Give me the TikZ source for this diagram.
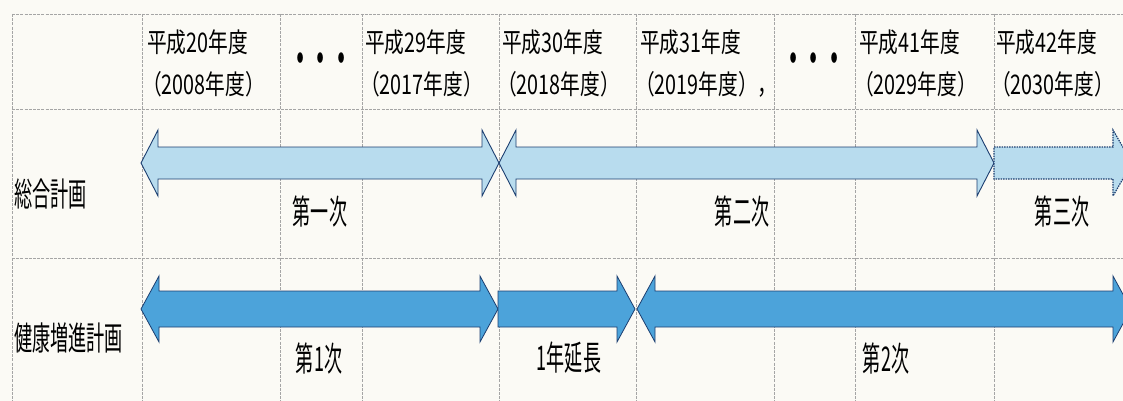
\documentclass[tikz,border=0pt]{standalone}
\usepackage{fontspec}
\newfontfamily\hdfont[FakeStretch=0.73]{Noto Sans CJK JP}
\newfontfamily\rwfont[FakeStretch=0.55]{Noto Sans CJK JP}
\newfontfamily\txfont[FakeStretch=0.53]{Noto Sans CJK JP}
\definecolor{bgcol}{RGB}{251,250,245}
\definecolor{gridcol}{RGB}{165,165,165}
\definecolor{lightfill}{RGB}{184,220,238}
\definecolor{darkfill}{RGB}{76,163,218}
\definecolor{edgecol}{RGB}{28,62,112}
\tikzset{
  gridline/.style={draw=gridcol, line width=0.5pt, dash pattern=on 3pt off 1.2pt},
  hdtext/.style={anchor=west, inner sep=0pt, font=\hdfont\fontsize{27}{27}\selectfont, text=black},
  dotstext/.style={inner sep=0pt, font=\txfont\bfseries\fontsize{38}{38}\selectfont, text=black},
  rowtext/.style={anchor=west, inner sep=0pt, font=\rwfont\fontsize{33}{33}\selectfont, text=black},
  lbltext/.style={inner sep=0pt, font=\txfont\fontsize{34}{34}\selectfont, text=black},
  lightarrow/.style={fill=lightfill, draw=edgecol, line width=0.9pt, line join=miter},
  dasharrow/.style={fill=lightfill, draw=edgecol, line width=1.2pt, dash pattern=on 1.5pt off 1pt},
  darkarrow/.style={fill=darkfill, draw=edgecol, line width=0.8pt, line join=miter},
}
\begin{document}
\begin{tikzpicture}[x=1pt,y=-1pt]
\useasboundingbox (0,0) rectangle (1123,401);
\fill[bgcol] (0,0) rectangle (1123,401);
\clip (0,0) rectangle (1123,401);
% grid
\foreach \yy in {14,109,258} \draw[gridline] (12,\yy) -- (1123,\yy);
\foreach \xx in {12,142,280,362,499,636,774,855,994} \draw[gridline] (\xx,14) -- (\xx,401);
% header
\node[hdtext] (h1a) at (147,42) {平成20年度};
\node[hdtext] (h1b) at (142,84) {（2008年度）};
\node[dotstext] (d1) at (321,63) {・・・};
\node[hdtext] (h2a) at (365,42) {平成29年度};
\node[hdtext] (h2b) at (360,84) {（2017年度）};
\node[hdtext] (h3a) at (502,42) {平成30年度};
\node[hdtext] (h3b) at (497,84) {（2018年度）};
\node[hdtext] (h4a) at (640,42) {平成31年度};
\node[hdtext] (h4b) at (635,84) {（2019年度），};
\node[dotstext] (d2) at (814,63) {・・・};
\node[hdtext] (h5a) at (859,42) {平成41年度};
\node[hdtext] (h5b) at (854,84) {（2029年度）};
\node[hdtext] (h6a) at (996,42) {平成42年度};
\node[hdtext] (h6b) at (991,84) {（2030年度）};
% row labels
\node[rowtext] (r1) at (14,194) {総合計画};
\node[rowtext] (r2) at (14,338) {健康増進計画};
% row 2 arrows (center 163)
\draw[lightarrow] (141,163) -- (158,130) -- (158,147) -- (482,147) -- (482,130) -- (499,163)
  -- (482,196) -- (482,179) -- (158,179) -- (158,196) -- cycle;
\draw[lightarrow] (499,163) -- (516,130) -- (516,147) -- (977,147) -- (977,130) -- (994,163)
  -- (977,196) -- (977,179) -- (516,179) -- (516,196) -- cycle;
\draw[dasharrow] (994,147) -- (1113,147) -- (1113,130) -- (1132,163) -- (1113,196) -- (1113,179) -- (994,179) -- cycle;
% row 3 arrows (center 309)
\draw[darkarrow] (141,309) -- (159,276) -- (159,291) -- (480,291) -- (480,276) -- (498,309)
  -- (480,342) -- (480,327) -- (159,327) -- (159,342) -- cycle;
\draw[darkarrow] (498,291) -- (617,291) -- (617,276) -- (635,309) -- (617,342) -- (617,327) -- (498,327) -- cycle;
\draw[darkarrow] (637,309) -- (655,276) -- (655,291) -- (1113,291) -- (1113,276) -- (1131,309)
  -- (1113,342) -- (1113,327) -- (655,327) -- (655,342) -- cycle;
% arrow labels
\node[lbltext] (l1) at (320,211) {第一次};
\node[lbltext] (l2) at (742,211) {第二次};
\node[lbltext] (l3) at (1062,211) {第三次};
\node[lbltext] (l4) at (319,358) {第1次};
\node[lbltext] (l5) at (569,358) {1年延長};
\node[lbltext] (l6) at (886,358) {第2次};
\end{tikzpicture}
\end{document}
